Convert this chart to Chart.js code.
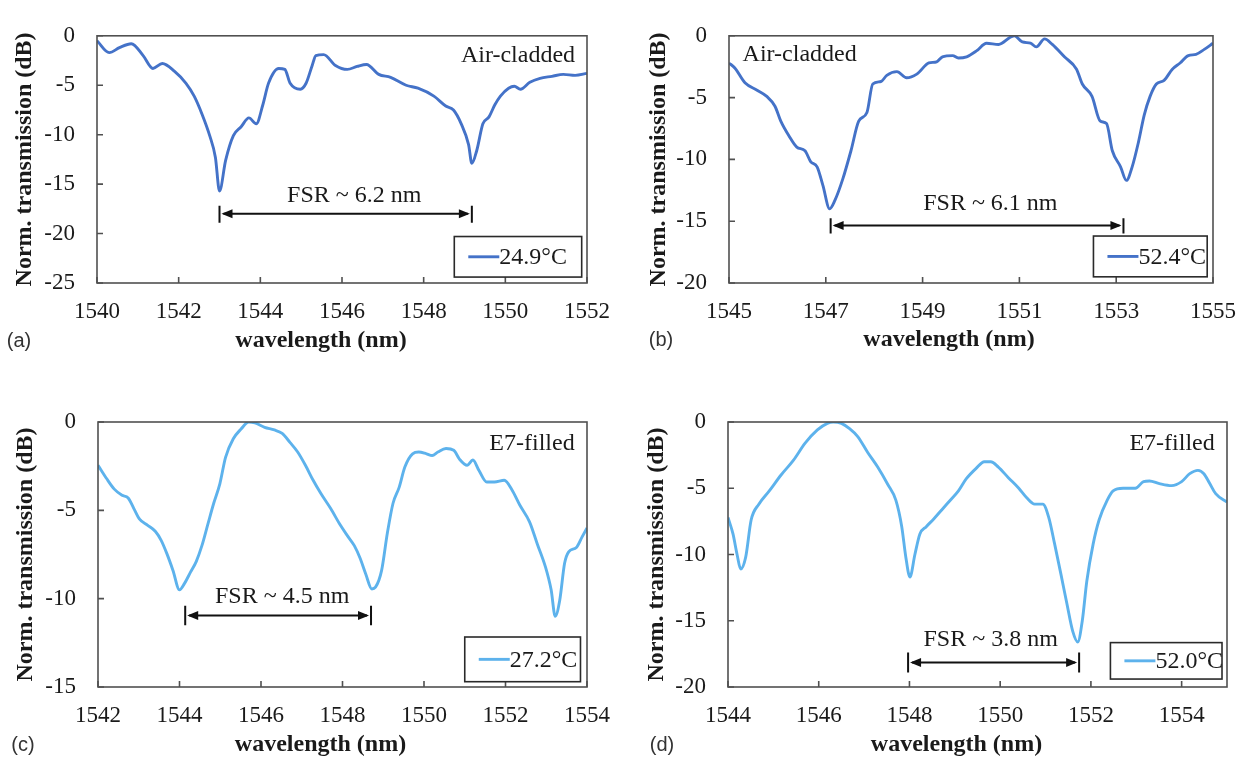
<!DOCTYPE html>
<html lang="en">
<head>
<meta charset="UTF-8" />
<title>Norm. transmission vs wavelength</title>
<script src="https://cdn.jsdelivr.net/npm/chart.js"></script>
<style>
  body { margin: 0; background: #fff; }
  #wrap { position: relative; width: 1251px; height: 759px; overflow: hidden; }
  #wrap canvas { position: absolute; }
</style>
</head>
<body>
<div id="wrap">
  <canvas id="chartA" width="625" height="380" style="left:0px;top:0px"></canvas>
  <canvas id="chartB" width="626" height="380" style="left:625px;top:0px"></canvas>
  <canvas id="chartC" width="625" height="379" style="left:0px;top:380px"></canvas>
  <canvas id="chartD" width="626" height="379" style="left:625px;top:380px"></canvas>
</div>
<script>
// (a) air-cladded, 24.9 °C
const wlA = [1540, 1540.3, 1540.55, 1540.84, 1541.13, 1541.37, 1541.6, 1541.9, 1542.18, 1542.38,
  1542.57, 1542.76, 1542.9, 1543.0, 1543.15, 1543.34, 1543.53, 1543.72, 1543.9, 1544.06,
  1544.2, 1544.45, 1544.6, 1544.73, 1544.98, 1545.12, 1545.27, 1545.36, 1545.55, 1545.84,
  1546.13, 1546.37, 1546.6, 1546.9, 1547.19, 1547.57, 1547.86, 1548.25, 1548.54, 1548.73,
  1548.92, 1549.1, 1549.18, 1549.3, 1549.45, 1549.6, 1549.74, 1549.88, 1550.08, 1550.22,
  1550.37, 1550.6, 1550.85, 1551.14, 1551.42, 1551.71, 1552.0];
const dbA = [-0.5, -1.7, -1.2, -0.8, -2.0, -3.3, -2.8, -3.6, -4.8, -6.1,
  -7.9, -10.1, -12.3, -15.7, -12.6, -10.1, -9.2, -8.3, -8.9, -7.0,
  -4.8, -3.3, -3.4, -4.8, -5.4, -4.8, -3.0, -2.0, -1.9, -3.0,
  -3.4, -3.1, -2.9, -3.9, -4.2, -5.0, -5.3, -6.1, -7.1, -7.5,
  -8.9, -11.0, -12.9, -11.6, -8.9, -8.2, -7.0, -6.1, -5.3, -5.1,
  -5.4, -4.7, -4.3, -4.1, -3.9, -4.0, -3.8];

// (b) air-cladded, 52.4 °C
const wlB = [1545, 1545.12, 1545.33, 1545.58, 1545.78, 1545.95, 1546.07, 1546.24, 1546.4, 1546.57,
  1546.69, 1546.82, 1546.94, 1547.08, 1547.19, 1547.35, 1547.52, 1547.68, 1547.85, 1547.97,
  1548.14, 1548.26, 1548.47, 1548.67, 1548.88, 1549.13, 1549.29, 1549.41, 1549.62, 1549.74,
  1549.91, 1550.12, 1550.32, 1550.57, 1550.82, 1550.9, 1551.06, 1551.23, 1551.35, 1551.52,
  1551.68, 1551.93, 1552.18, 1552.3, 1552.5, 1552.67, 1552.8, 1552.92, 1553.09, 1553.21,
  1553.33, 1553.46, 1553.58, 1553.7, 1553.83, 1553.99, 1554.16, 1554.32, 1554.49, 1554.65,
  1554.82, 1555];
const dbB = [-2.2, -2.6, -3.8, -4.4, -4.9, -5.7, -6.9, -8.1, -9.0, -9.3,
  -10.2, -10.6, -12.1, -14.0, -13.3, -11.6, -9.3, -6.9, -6.2, -3.9,
  -3.7, -3.2, -2.9, -3.4, -3.1, -2.2, -2.1, -1.7, -1.6, -1.8,
  -1.7, -1.2, -0.6, -0.7, -0.1, 0, -0.5, -0.6, -0.9, -0.25,
  -0.7, -1.7, -2.7, -3.9, -4.9, -6.9, -7.1, -9.3, -10.6, -11.7,
  -10.6, -8.6, -6.4, -4.9, -3.9, -3.6, -2.7, -2.2, -1.6, -1.5,
  -1.1, -0.6];

// (c) E7-filled, 27.2 °C
const wlC = [1542, 1542.21, 1542.4, 1542.59, 1542.74, 1542.88, 1543.02, 1543.22, 1543.41, 1543.55,
  1543.69, 1543.84, 1544.0, 1544.12, 1544.27, 1544.41, 1544.55, 1544.7, 1544.84, 1544.99,
  1545.13, 1545.32, 1545.51, 1545.7, 1545.85, 1546.09, 1546.33, 1546.52, 1546.71, 1546.9,
  1547.09, 1547.28, 1547.47, 1547.71, 1547.95, 1548.14, 1548.29, 1548.43, 1548.57, 1548.72,
  1548.81, 1548.96, 1549.1, 1549.24, 1549.39, 1549.53, 1549.72, 1549.87, 1550.06, 1550.2,
  1550.34, 1550.54, 1550.73, 1550.87, 1551.06, 1551.2, 1551.35, 1551.54, 1551.73, 1551.97,
  1552.16, 1552.35, 1552.59, 1552.78, 1552.98, 1553.12, 1553.22, 1553.33, 1553.45, 1553.55,
  1553.74, 1553.88, 1554];
const dbC = [-2.45, -3.2, -3.8, -4.15, -4.3, -4.9, -5.5, -5.85, -6.2, -6.7,
  -7.45, -8.4, -9.5, -9.15, -8.5, -7.9, -7.0, -5.75, -4.6, -3.5,
  -2.0, -0.95, -0.4, 0, -0.05, -0.3, -0.45, -0.65, -1.15, -1.7,
  -2.45, -3.3, -4.05, -4.9, -5.85, -6.5, -7.0, -7.7, -8.6, -9.45,
  -9.35, -8.4, -6.3, -4.6, -3.7, -2.55, -1.8, -1.7, -1.8, -1.9,
  -1.7, -1.5, -1.6, -2.1, -2.45, -2.15, -2.75, -3.4, -3.4, -3.3,
  -3.85, -4.7, -5.65, -6.9, -8.2, -9.5, -11.0, -10.1, -8.0, -7.35,
  -7.1, -6.5, -6.0];

// (d) E7-filled, 52.0 °C
const wlD = [1544, 1544.11, 1544.2, 1544.28, 1544.39, 1544.51, 1544.68, 1544.91, 1545.17, 1545.44,
  1545.7, 1545.97, 1546.19, 1546.32, 1546.5, 1546.68, 1546.86, 1547.08, 1547.3, 1547.52,
  1547.7, 1547.83, 1547.92, 1548.01, 1548.12, 1548.23, 1548.37, 1548.54, 1548.72, 1548.9,
  1549.08, 1549.25, 1549.47, 1549.65, 1549.79, 1549.96, 1550.18, 1550.41, 1550.58, 1550.76,
  1550.94, 1551.07, 1551.2, 1551.34, 1551.47, 1551.6, 1551.71, 1551.81, 1551.91, 1552.05,
  1552.18, 1552.36, 1552.49, 1552.71, 1552.98, 1553.16, 1553.29, 1553.51, 1553.78, 1554.0,
  1554.18, 1554.36, 1554.49, 1554.62, 1554.75, 1555];
const dbD = [-7.2, -8.45, -10.0, -11.1, -10.2, -7.4, -6.2, -5.2, -4.0, -2.9,
  -1.6, -0.6, -0.1, 0, -0.1, -0.5, -1.1, -2.3, -3.4, -4.7,
  -5.9, -7.9, -10.2, -11.7, -10.0, -8.45, -7.9, -7.3, -6.6, -5.9,
  -5.2, -4.3, -3.5, -3.0, -3.0, -3.4, -4.2, -5.0, -5.7, -6.2,
  -6.2, -7.2, -9.2, -11.5, -13.7, -15.8, -16.6, -15.0, -12.0, -9.2,
  -7.4, -5.9, -5.2, -5.0, -5.0, -4.5, -4.45, -4.65, -4.8, -4.5,
  -3.9, -3.65, -3.9, -4.65, -5.4, -6.05];

// tick labels
const xTicksA = [1540, 1542, 1544, 1546, 1548, 1550, 1552];
const xTicksB = [1545, 1547, 1549, 1551, 1553, 1555];
const xTicksC = [1542, 1544, 1546, 1548, 1550, 1552, 1554];
const xTicksD = [1544, 1546, 1548, 1550, 1552, 1554];
const yTicksA = [0, -5, -10, -15, -20, -25];
const yTicksB = [0, -5, -10, -15, -20];
const yTicksC = [0, -5, -10, -15];
const yTicksD = [0, -5, -10, -15, -20];

const seriesLabels = ["24.9°C", "52.4°C", "27.2°C", "52.0°C"];
const notes = ["Air-cladded", "Air-cladded", "E7-filled", "E7-filled"];
const fsrTexts = ["FSR ~ 6.2 nm", "FSR ~ 6.1 nm", "FSR ~ 4.5 nm", "FSR ~ 3.8 nm"];

const SERIF = "'Liberation Serif', 'Times New Roman', serif";
const DARK_BLUE = "#4472C8";
const LIGHT_BLUE = "#5DB2EC";

// draws frame, inner ticks, FSR arrow, labels and the boxed legend
const decor = {
  id: "decor",
  afterDatasetsDraw(chart, args, o) {
    const { ctx, chartArea: a, scales } = chart;
    const x = scales.x, y = scales.y;
    const px = (v) => x.getPixelForValue(v);
    const py = (v) => y.getPixelForValue(v);
    ctx.save();

    // plot frame + inward ticks
    ctx.strokeStyle = "#505050";
    ctx.lineWidth = 1.6;
    ctx.strokeRect(a.left, a.top, a.right - a.left, a.bottom - a.top);
    ctx.beginPath();
    x.ticks.forEach((t) => {
      ctx.moveTo(px(t.value), a.bottom);
      ctx.lineTo(px(t.value), a.bottom - 6);
    });
    y.ticks.forEach((t) => {
      ctx.moveTo(a.left, py(t.value));
      ctx.lineTo(a.left + 6, py(t.value));
    });
    ctx.stroke();

    // FSR marker
    const f = o.fsr;
    const x1 = px(f.x1), x2 = px(f.x2), ya = py(f.yArrow);
    ctx.strokeStyle = "#111";
    ctx.fillStyle = "#111";
    ctx.lineWidth = 2;
    ctx.beginPath();
    ctx.moveTo(x1, py(f.yTop)); ctx.lineTo(x1, py(f.yBottom));
    ctx.moveTo(x2, py(f.yTop)); ctx.lineTo(x2, py(f.yBottom));
    ctx.moveTo(x1 + 4, ya); ctx.lineTo(x2 - 4, ya);
    ctx.stroke();
    [[x1 + 2, 1], [x2 - 2, -1]].forEach(([tx, d]) => {
      ctx.beginPath();
      ctx.moveTo(tx, ya);
      ctx.lineTo(tx + d * 11, ya - 4.5);
      ctx.lineTo(tx + d * 11, ya + 4.5);
      ctx.closePath();
      ctx.fill();
    });

    ctx.font = "24px " + SERIF;
    ctx.textAlign = "center";
    ctx.textBaseline = "middle";
    ctx.fillStyle = "#1a1a1a";
    ctx.fillText(o.fsrText, px(f.tx), py(f.ty));
    ctx.fillText(o.note, px(o.noteAt[0]), py(o.noteAt[1]));

    // legend box
    const L = o.legend;
    const lx1 = px(L.x1), lx2 = px(L.x2), ly1 = py(L.y1), ly2 = py(L.y2);
    const lyc = (ly1 + ly2) / 2;
    ctx.fillStyle = "#fff";
    ctx.fillRect(lx1, ly1, lx2 - lx1, ly2 - ly1);
    ctx.strokeStyle = "#2a2a2a";
    ctx.lineWidth = 1.6;
    ctx.strokeRect(lx1, ly1, lx2 - lx1, ly2 - ly1);
    const ds = chart.data.datasets[0];
    ctx.strokeStyle = ds.borderColor;
    ctx.lineWidth = 2.9;
    ctx.beginPath();
    ctx.moveTo(lx1 + 14, lyc); ctx.lineTo(lx1 + 45, lyc);
    ctx.stroke();
    ctx.fillStyle = "#1a1a1a";
    ctx.textAlign = "left";
    ctx.fillText(ds.label, lx1 + 45, lyc + 1);

    // x axis title and panel letter
    const ty = a.bottom + o.titleDy;
    ctx.font = "bold 24px " + SERIF;
    ctx.textAlign = "center";
    ctx.fillText("wavelength (nm)", (a.left + a.right) / 2 + o.titleDx, ty);
    ctx.font = "20px 'Liberation Sans', Arial, sans-serif";
    ctx.fillStyle = "#333";
    ctx.fillText(o.letter, o.letterX, ty);
    ctx.restore();
  },
};

function makeChart(id, wl, db, color, idx, xMin, xMax, xTicks, yMin, yTicks, lay, dec) {
  return new Chart(document.getElementById(id), {
    type: "line",
    data: {
      datasets: [{
        label: seriesLabels[idx],
        data: wl.map((w, i) => ({ x: w, y: db[i] })),
        borderColor: color,
        borderWidth: 2.9,
        pointRadius: 0,
        cubicInterpolationMode: "monotone",
        fill: false,
      }],
    },
    options: {
      responsive: false,
      animation: false,
      events: [],
      layout: { padding: { top: lay.top, right: lay.right, left: 0, bottom: 0 } },
      plugins: {
        legend: { display: false },
        tooltip: { enabled: false },
        decor: Object.assign({ note: notes[idx], fsrText: fsrTexts[idx] }, dec),
      },
      scales: {
        x: {
          type: "linear",
          min: xMin,
          max: xMax,
          afterBuildTicks: (s) => { s.ticks = xTicks.map((v) => ({ value: v })); },
          afterFit: (s) => { s.height = lay.xAxisH; },
          grid: { display: false, drawTicks: false },
          border: { display: false },
          ticks: {
            padding: 15,
            autoSkip: false,
            maxRotation: 0,
            color: "#1a1a1a",
            font: { family: SERIF, size: 23 },
            callback: (v) => String(v),
          },
        },
        y: {
          min: yMin,
          max: 0,
          afterBuildTicks: (s) => { s.ticks = yTicks.map((v) => ({ value: v })); },
          afterFit: (s) => { s.width = lay.yAxisW; },
          grid: { display: false, drawTicks: false },
          border: { display: false },
          ticks: {
            padding: 22,
            color: "#1a1a1a",
            font: { family: SERIF, size: 23 },
            callback: (v) => String(v),
          },
          title: {
            display: true,
            text: "Norm. transmission (dB)",
            color: "#1a1a1a",
            font: { family: SERIF, size: 24, weight: "bold" },
            padding: { top: lay.yTitlePad, bottom: 0 },
          },
        },
      },
    },
    plugins: [decor],
  });
}

makeChart("chartA", wlA, dbA, DARK_BLUE, 0, 1540, 1552, xTicksA, -25, yTicksA,
  { top: 16, right: 38, xAxisH: 97, yAxisW: 97, yTitlePad: 10 },
  {
    fsr: { x1: 1543.0, x2: 1549.18, yTop: -17.2, yBottom: -18.9, yArrow: -18.0, tx: 1546.3, ty: -16.15 },
    noteAt: [1550.31, -2.0],
    legend: { x1: 1548.75, x2: 1551.87, y1: -20.3, y2: -24.4 },
    titleDx: -21, titleDy: 58, letter: "(a)", letterX: 19,
  });

makeChart("chartB", wlB, dbB, DARK_BLUE, 1, 1545, 1555, xTicksB, -20, yTicksB,
  { top: 13, right: 34, xAxisH: 97, yAxisW: 104, yTitlePad: 19 },
  {
    fsr: { x1: 1547.1, x2: 1553.15, yTop: -14.76, yBottom: -16.0, yArrow: -15.35, tx: 1550.4, ty: -13.6 },
    noteAt: [1546.46, -1.5],
    legend: { x1: 1552.53, x2: 1554.88, y1: -16.2, y2: -19.5 },
    titleDx: -22, titleDy: 57, letter: "(b)", letterX: 36,
  });

makeChart("chartC", wlC, dbC, LIGHT_BLUE, 2, 1542, 1554, xTicksC, -15, yTicksC,
  { top: 42, right: 32, xAxisH: 72, yAxisW: 98, yTitlePad: 11 },
  {
    fsr: { x1: 1544.14, x2: 1548.7, yTop: -10.4, yBottom: -11.5, yArrow: -10.95, tx: 1546.52, ty: -9.9 },
    noteAt: [1552.65, -1.23],
    legend: { x1: 1551.0, x2: 1553.84, y1: -12.17, y2: -14.7 },
    titleDx: -22, titleDy: 58, letter: "(c)", letterX: 23,
  });

makeChart("chartD", wlD, dbD, LIGHT_BLUE, 3, 1544, 1555, xTicksD, -20, yTicksD,
  { top: 42, right: 24, xAxisH: 72, yAxisW: 103, yTitlePad: 17 },
  {
    fsr: { x1: 1547.97, x2: 1551.74, yTop: -17.4, yBottom: -18.9, yArrow: -18.15, tx: 1549.79, ty: -16.4 },
    noteAt: [1553.79, -1.64],
    legend: { x1: 1552.43, x2: 1554.89, y1: -16.65, y2: -19.4 },
    titleDx: -21, titleDy: 58, letter: "(d)", letterX: 37,
  });
</script>
</body>
</html>
